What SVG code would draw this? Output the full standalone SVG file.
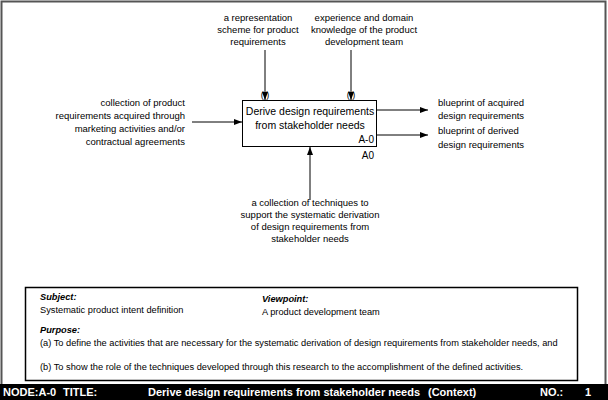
<svg xmlns="http://www.w3.org/2000/svg" width="608" height="400" viewBox="0 0 608 400">
<style>
.t{font-family:"Liberation Sans",Arial,sans-serif;font-size:9.5px;fill:#000}
.c{text-anchor:middle}
.r{text-anchor:end}
.box{fill:#fff;stroke:#000;stroke-width:1}
.ln{stroke:#000;stroke-width:1;fill:none}
.s{font-family:"Liberation Sans",Arial,sans-serif;font-size:9.25px;fill:#000}
.bi{font-weight:bold;font-style:italic}
.f{font-family:"Liberation Sans",Arial,sans-serif;font-size:11px;font-weight:bold;fill:#fff}
</style>
<defs>
<marker id="ah" markerWidth="8" markerHeight="6" refX="8" refY="3" orient="auto" markerUnits="userSpaceOnUse">
<path d="M0,0 L8,3 L0,6 Z" fill="#000"/>
</marker>
</defs>
<rect x="0" y="0" width="608" height="400" fill="#fff"/>
<rect x="1.5" y="1.5" width="604" height="384" fill="none" stroke="#555" stroke-width="2"/>

<g id="connectors">
<line class="ln" x1="192" y1="122" x2="242" y2="122" marker-end="url(#ah)"/>
<line class="ln" x1="265" y1="50" x2="265" y2="100" marker-end="url(#ah)"/>
<line class="ln" x1="351" y1="50" x2="351" y2="100" marker-end="url(#ah)"/>
<line class="ln" x1="377" y1="110" x2="428" y2="110" marker-end="url(#ah)"/>
<line class="ln" x1="377" y1="135" x2="428" y2="135" marker-end="url(#ah)"/>
<line class="ln" x1="310" y1="200" x2="310" y2="147" marker-end="url(#ah)"/>
<text class="t c" x="265" y="98" style="font-size:9px">( )</text>
<text class="t c" x="351" y="98" style="font-size:9px">( )</text>
</g>

<g id="A0">
<rect class="box" x="242.5" y="100.5" width="134" height="46"/>
<text class="t c" x="310" y="115" style="font-size:10.5px">Derive design requirements</text>
<text class="t c" x="310" y="129" style="font-size:10.5px">from stakeholder needs</text>
<text class="t r" x="374" y="143" style="font-size:10px">A-0</text>
<text class="t r" x="374" y="159" style="font-size:10px">A0</text>
</g>

<g id="input">
<text class="t r" x="185" y="106">collection of product</text>
<text class="t r" x="185" y="119">requirements acquired through</text>
<text class="t r" x="185" y="132">marketing activities and/or</text>
<text class="t r" x="185" y="145">contractual agreements</text>
</g>
<g id="control1">
<text class="t c" x="258" y="21">a representation</text>
<text class="t c" x="258" y="33">scheme for product</text>
<text class="t c" x="258" y="45">requirements</text>
</g>
<g id="control2">
<text class="t c" x="364" y="21">experience and domain</text>
<text class="t c" x="364" y="33">knowledge of the product</text>
<text class="t c" x="364" y="45">development team</text>
</g>
<g id="output1">
<text class="t" x="438" y="106">blueprint of acquired</text>
<text class="t" x="438" y="119">design requirements</text>
</g>
<g id="output2">
<text class="t" x="438" y="134">blueprint of derived</text>
<text class="t" x="438" y="148">design requirements</text>
</g>
<g id="mechanism">
<text class="t c" x="310" y="206">a collection of techniques to</text>
<text class="t c" x="310" y="218">support the systematic derivation</text>
<text class="t c" x="310" y="230">of design requirements from</text>
<text class="t c" x="310" y="242">stakeholder needs</text>
</g>

<g id="context-box">
<rect x="25.5" y="287.5" width="552" height="93" fill="#fff" stroke="#000" stroke-width="1.5"/>
<text class="s bi" x="40" y="300">Subject:</text>
<text class="s" x="40" y="313">Systematic product intent definition</text>
<text class="s bi" x="262" y="302">Viewpoint:</text>
<text class="s" x="262" y="315">A product development team</text>
<text class="s bi" x="40" y="333">Purpose:</text>
<text class="s" x="40" y="346">(a) To define the activities that are necessary for the systematic derivation of design requirements from stakeholder needs, and</text>
<text class="s" x="40" y="370">(b) To show the role of the techniques developed through this research to the accomplishment of the defined activities.</text>
</g>

<g id="footer">
<rect x="0" y="384" width="608" height="16" fill="#000"/>
<text class="f" x="3" y="396">NODE:A-0</text>
<text class="f" x="63" y="396">TITLE:</text>
<text class="f" x="148" y="396">Derive design requirements from stakeholder needs</text>
<text class="f" x="428" y="396">(Context)</text>
<text class="f" x="540" y="396">NO.:</text>
<text class="f" x="585" y="396">1</text>
</g>
</svg>
